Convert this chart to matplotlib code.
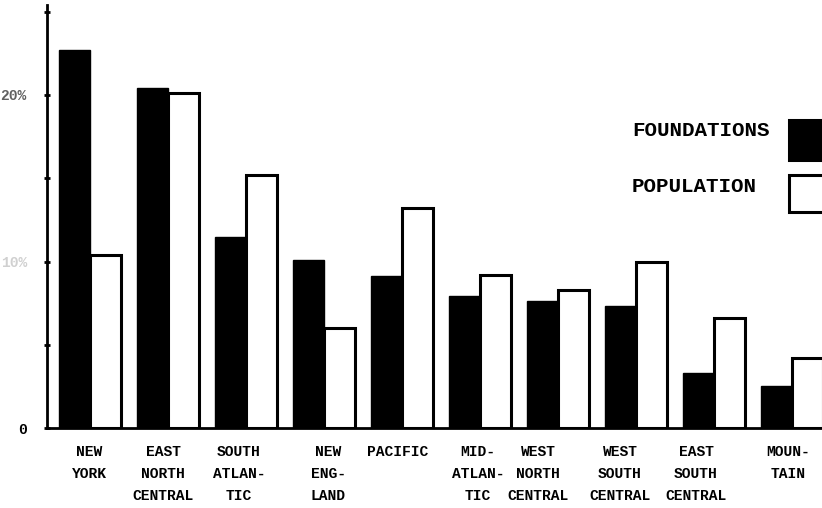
import matplotlib
matplotlib.use("Agg")
import matplotlib.pyplot as plt
import matplotlib.transforms as mtransforms
from matplotlib.patches import Rectangle
import numpy as np

# ---- data ----
regions = ["NEW\nYORK", "EAST\nNORTH\nCENTRAL", "SOUTH\nATLAN-\nTIC", "NEW\nENG-\nLAND",
           "PACIFIC", "MID-\nATLAN-\nTIC", "WEST\nNORTH\nCENTRAL", "WEST\nSOUTH\nCENTRAL",
           "EAST\nSOUTH\nCENTRAL", "MOUN-\nTAIN"]
foundations = [22.7, 20.4, 11.5, 10.1, 9.1, 7.9, 7.6, 7.3, 3.3, 2.5]
population = [10.4, 20.1, 15.2, 6.0, 13.2, 9.2, 8.3, 10.0, 6.6, 4.2]
ytick_values = [0, 5, 10, 15, 20, 25]
ytick_labels = ["0", "", "10%", "", "20%", ""]
legend_labels = ["FOUNDATIONS", "POPULATION"]

# ---- layout / style ----
W, H = 822, 508
FONT = "Liberation Mono"
label_dx_px = [-1, -5, -7, 4, -4, -2, -20, -16, -18, -4]

fig = plt.figure(figsize=(W / 100, H / 100), dpi=100)
ax = fig.add_axes([47 / W, 1 - 428 / H, (W - 47) / W, (428 - 5) / H])

x = np.arange(len(regions))
bw = 0.40
ax.bar(x, foundations, width=-bw, align="edge", color="black",
       edgecolor="black", linewidth=1.0)
ax.bar(x, population, width=bw, align="edge", facecolor="white",
       edgecolor="black", linewidth=2.2)

px_per_unit = 78.0
ax.set_xlim((47 - 90) / px_per_unit, (822 - 90) / px_per_unit)
ax.set_ylim(0, 423 / 16.65)

for s in ["top", "right"]:
    ax.spines[s].set_visible(False)
for s in ["left", "bottom"]:
    ax.spines[s].set_linewidth(2.0)
    ax.spines[s].set_color("black")

ax.set_xticks(x)
ax.set_xticklabels(regions, fontfamily=FONT, fontweight="bold", fontsize=10.5,
                   linespacing=1.75, ha="center", multialignment="center")
ax.tick_params(axis="x", length=0, pad=12)
for lbl, dx in zip(ax.get_xticklabels(), label_dx_px):
    lbl.set_transform(lbl.get_transform() +
                      mtransforms.ScaledTranslation(dx / 100, 0, fig.dpi_scale_trans))

ax.set_yticks(ytick_values)
ax.set_yticklabels(ytick_labels, fontfamily=FONT, fontweight="bold", fontsize=10.5)
ax.tick_params(axis="y", direction="inout", length=5, width=2, pad=12)
ylabels = ax.get_yticklabels()
ylabels[2].set_color("#d0d0d0")
ylabels[4].set_color("#606060")

# legend: text on the left, swatch on the right (left-aligned texts)
legend_rows = [(131, 120, 40, "black"), (186, 175, 37, "white")]
for label, (ty, by, bh, fc) in zip(legend_labels, legend_rows):
    fig.text(632 / W, 1 - ty / H, label, ha="left", va="center",
             fontfamily=FONT, fontweight="bold", fontsize=15)
    fig.patches.append(Rectangle((789 / W, 1 - (by + bh) / H), 60 / W, bh / H,
                                 transform=fig.transFigure, facecolor=fc,
                                 edgecolor="black", linewidth=2.2))

fig.savefig("out.png", dpi=100)
